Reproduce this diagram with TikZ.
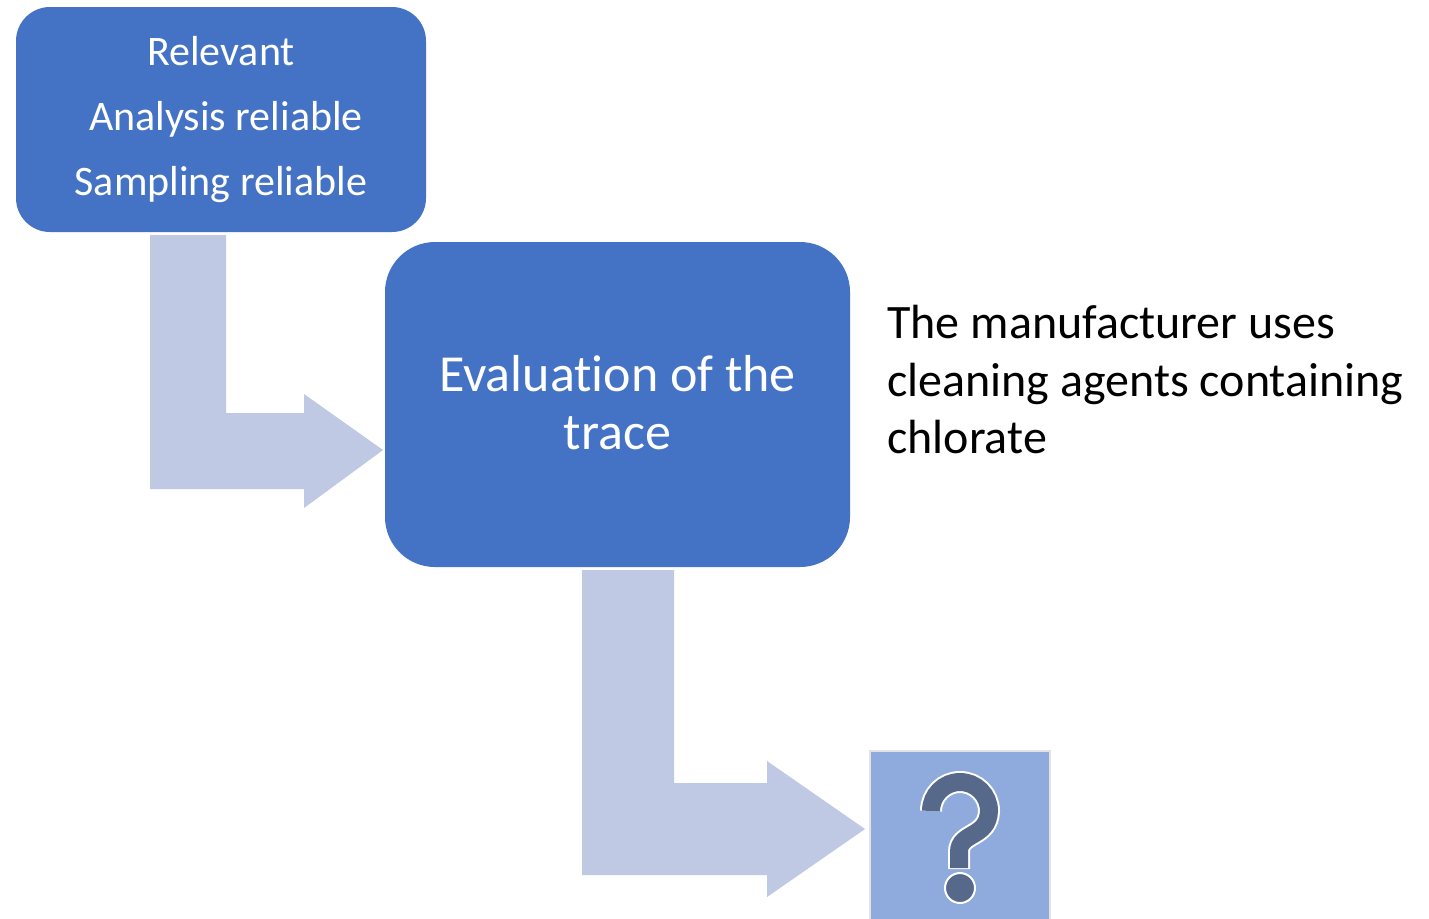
\documentclass[tikz,border=0pt]{standalone}
\usepackage{fontspec}
\setmainfont[Ligatures=NoCommon]{Carlito}
\definecolor{boxblue}{HTML}{4472C4}
\definecolor{arrowblue}{HTML}{BFC9E3}
\definecolor{qbox}{HTML}{8FAADC}
\definecolor{qmark}{HTML}{56698A}
\definecolor{qborder}{HTML}{E2E2E2}
\tikzset{
  box/.style={fill=boxblue, draw=none, text=white, align=center, inner sep=0pt},
  blockarrow/.style={fill=arrowblue, draw=none},
}
\begin{document}
\begin{tikzpicture}[x=0.5pt,y=-0.5pt]
\useasboundingbox (0,0) rectangle (1429,918);
\fill[white] (0,0) rectangle (1429,918);
% block arrows
\fill[blockarrow] (150,235) -- (226,235) -- (226,413) -- (304,413) -- (304,394) -- (383,450) -- (304,508) -- (304,489) -- (150,489) -- cycle;
\fill[blockarrow] (582,570) -- (674,570) -- (674,783) -- (767,783) -- (767,761) -- (865,829) -- (767,897) -- (767,875) -- (582,875) -- cycle;
% boxes
\node[box, rounded corners=17pt, minimum width=205pt, minimum height=112.5pt,
      font=\fontsize{21pt}{32.5pt}\selectfont] (top) at (221,119.5)
  {Relevant\\ \hspace*{5pt}Analysis reliable\\Sampling reliable};
\node[box, rounded corners=25pt, minimum width=232.5pt, minimum height=162.5pt,
      font=\fontsize{26pt}{29pt}\selectfont, text depth=0pt] (eval) at (617.5,404.5) {};
\node[text=white, align=center, inner sep=0pt,
      font=\fontsize{26pt}{29pt}\selectfont] (evaltext) at (617.5,402.5)
  {Evaluation of the\\trace};
\node[anchor=north west, align=left, inner sep=0pt,
      font=\fontsize{24pt}{28.75pt}\selectfont] (note) at (887,305)
  {The manufacturer uses\\cleaning agents containing\\chlorate};
% question box
\draw[fill=qbox, draw=qborder, line width=1pt] (870,751) rectangle (1050,930);
\node[inner sep=0pt, minimum width=90pt, minimum height=80pt] (q) at (960,835) {};
\draw[white, line width=11pt] (931,811) arc[start angle=180, end angle=360, radius=29]
   .. controls (988,838) and (959,832) .. (959,852) -- (959,869);
\draw[qmark, line width=9pt] (931,811) arc[start angle=180, end angle=360, radius=29]
   .. controls (988,838) and (959,832) .. (959,852) -- (959,868);
\fill[qmark, draw=white, line width=1pt] (960,888) circle[radius=15];
\end{tikzpicture}
\end{document}
